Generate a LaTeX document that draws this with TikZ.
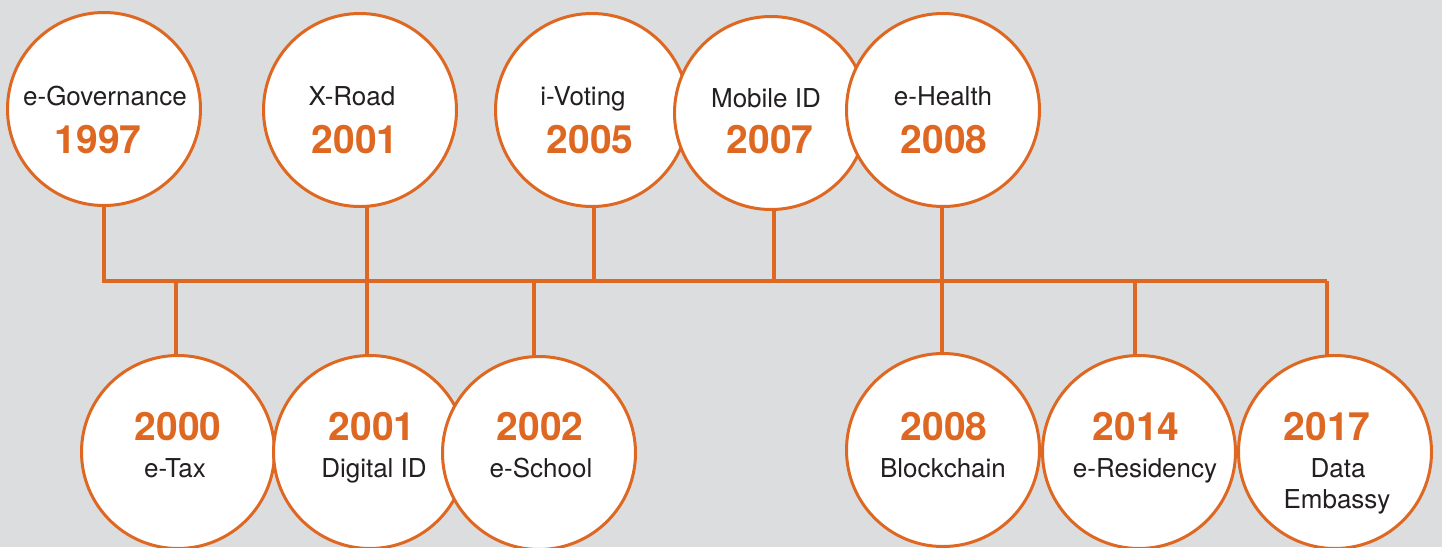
\documentclass[tikz,border=0pt]{standalone}
\usepackage{fontspec}
\setmainfont{TeX Gyre Heros}
\definecolor{bg}{RGB}{220,221,223}
\definecolor{ora}{RGB}{222,104,34}
\definecolor{ink}{RGB}{35,31,32}
\begin{document}
\begin{tikzpicture}[x=1pt,y=-1pt,
  bub/.style={circle,draw=ora,fill=white,line width=3pt,minimum size=193pt,inner sep=0pt},
  conn/.style={draw=ora,line width=3.2pt},
  lbl/.style={anchor=base,inner sep=0pt,text=ink,font=\fontsize{26}{31}\selectfont},
  yr/.style={anchor=base,inner sep=0pt,text=ora,font=\fontsize{39}{40}\selectfont\bfseries}]
\fill[bg] (0,0) rectangle (1442,547);
\useasboundingbox (0,0) rectangle (1442,547);
\clip (0,0) rectangle (1442,547);
% circles (positions only, drawn later)
\path (104,109) node[bub,draw=none,fill=none] (gov) {}
      (360,110) node[bub,draw=none,fill=none] (xr) {}
      (592,110) node[bub,draw=none,fill=none] (iv) {}
      (771,113) node[bub,draw=none,fill=none] (mid) {}
      (943,110) node[bub,draw=none,fill=none] (eh) {}
      (178,452) node[bub,draw=none,fill=none] (tax) {}
      (370,452) node[bub,draw=none,fill=none] (did) {}
      (539,453) node[bub,draw=none,fill=none] (sch) {}
      (943,450) node[bub,draw=none,fill=none] (bc) {}
      (1139,452) node[bub,draw=none,fill=none] (res) {}
      (1335,452) node[bub,draw=none,fill=none] (emb) {};
% bus coordinates
\coordinate (bL) at (104,281);
\coordinate (bR) at (1327,281);
\coordinate (b3) at (176,281);
\coordinate (b5) at (534,281);
\coordinate (b7) at (594,281);
\coordinate (b9) at (774,281);
\coordinate (b11) at (1135,281);
% connectors
\path[conn] (bL) -- (bR);
\path[conn] (gov.south) -- ([yshift=-1.5pt]bL);
\path[conn] (367,200) -- (367,360);
\path[conn] (b7) -- (594,200);
\path[conn] (b9) -- (774,205);
\path[conn] (942,200) -- (942,360);
\path[conn] (b3) -- (176,360);
\path[conn] (b5) -- (534,360);
\path[conn] (b11) -- (1135,360);
\path[conn] (bR) -- (1327,360);
% bubbles
\node[bub] at (gov) {};
\node[bub] at (xr) {};
\node[bub] at (iv) {};
\node[bub] at (mid) {};
\node[bub] at (eh) {};
\node[bub] at (tax) {};
\node[bub] at (did) {};
\node[bub] at (sch) {};
\node[bub] at (bc) {};
\node[bub] at (res) {};
\node[bub] at (emb) {};
% texts top
\node[lbl] (t1) at (105,105) {e-Governance};
\node[yr]  (y1) at (98,153) {1997};
\node[lbl] (t2) at (352,105) {X-Road};
\node[yr]  (y2) at (355,153) {2001};
\node[lbl] (t3) at (583,105) {i-Voting};
\node[yr]  (y3) at (590,153) {2005};
\node[lbl] (t4) at (766,107) {Mobile ID};
\node[yr]  (y4) at (770,153) {2007};
\node[lbl] (t5) at (943,105) {e-Health};
\node[yr]  (y5) at (944,153) {2008};
% texts bottom
\node[yr]  (y6) at (178,440) {2000};
\node[lbl] (t6) at (175,477) {e-Tax};
\node[yr]  (y7) at (372,440) {2001};
\node[lbl] (t7) at (374,477) {Digital ID};
\node[yr]  (y8) at (540,440) {2002};
\node[lbl] (t8) at (541,477) {e-School};
\node[yr]  (y9) at (944,440) {2008};
\node[lbl] (t9) at (943,477) {Blockchain};
\node[yr]  (y10) at (1136,440) {2014};
\node[lbl] (t10) at (1145,477) {e-Residency};
\node[yr]  (y11) at (1327,440) {2017};
\node[lbl] (t11a) at (1338,477) {Data};
\node[lbl] (t11b) at (1337,508) {Embassy};
\end{tikzpicture}
\end{document}
